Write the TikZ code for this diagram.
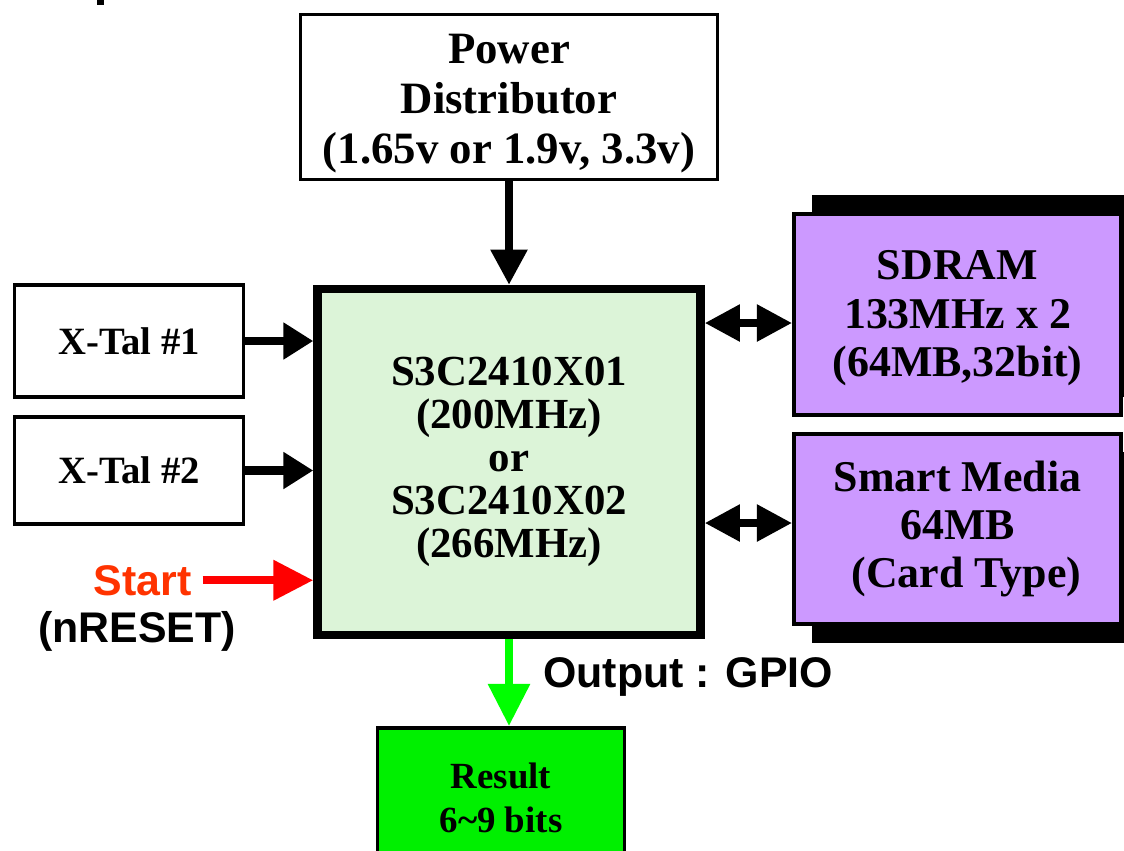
\documentclass[tikz,border=0pt]{standalone}
\usepackage{fontspec}
\setmainfont{Liberation Serif}
\setsansfont{Liberation Sans}
\usepackage{tikz}
\usetikzlibrary{arrows.meta}

\definecolor{chipgreen}{RGB}{220,244,216}
\definecolor{memviolet}{RGB}{204,153,255}
\definecolor{gpiogreen}{RGB}{0,255,0}
\definecolor{resultgreen}{RGB}{0,240,0}
\definecolor{startred}{RGB}{255,51,0}

\begin{document}
\begin{tikzpicture}[x=0.02cm, y=-0.02cm, >={Triangle[length=20pt,width=20pt]},
        block/.style={draw, line width=2.2pt, align=center, inner sep=0pt, font=\bfseries},
        memblock/.style={block, fill=memviolet, font=\bfseries\fontsize{25}{27.5}\selectfont},
        link/.style={line width=4.6pt, ->},
        tag/.style={inner sep=0pt, font=\sffamily\bfseries\fontsize{24.4}{28}\selectfont}]
        \def\pu{0.02cm}

        \useasboundingbox (0,0) rectangle (1124,850);
        \clip (0,0) rectangle (1124,850);

        \fill (97,0) rectangle (104,5);
        \fill (812,195) rectangle (1140,397);
        \fill (812,452) rectangle (1140,643);

        \node[block, minimum width=417*\pu, minimum height=165*\pu, font=\bfseries\fontsize{25.5}{28.3}\selectfont] (power) at (509,97) {\rule{0pt}{24pt}Power\\Distributor\\(1.65v or 1.9v, 3.3v)};
        \node[block, fill=chipgreen, line width=4.8pt, minimum width=383*\pu, minimum height=346*\pu, font=\bfseries\fontsize{24.4}{24.4}\selectfont] (soc) at (509,462) {S3C2410X01\\(200MHz)\\or\\S3C2410X02\\(266MHz)};
        \node[block, minimum width=229*\pu, minimum height=112*\pu, font=\bfseries\fontsize{22}{26}\selectfont] (xtal1) at (129,341) {X-Tal \#1};
        \node[block, minimum width=229*\pu, minimum height=107*\pu, font=\bfseries\fontsize{22}{26}\selectfont] (xtal2) at (129,470.5) {X-Tal \#2};
        \node[memblock, minimum width=327*\pu, minimum height=201*\pu] (sdram) at (957.5,314.5) {\rule{0pt}{21pt}SDRAM\\133MHz x 2\\(64MB,32bit)};
        \node[memblock, minimum width=327*\pu, minimum height=190*\pu] (smedia) at (957.5,529) {Smart Media\\64MB\\\hspace*{0.4em}(Card Type)};
        \node[block, fill=resultgreen, anchor=north, minimum width=247*\pu, minimum height=140*\pu, font=\bfseries\fontsize{21}{25}\selectfont] (result) at (501,726) {Result\\6\textasciitilde 9 bits};

        \node[tag, text=startred, anchor=base east] (start) at (192,595) {Start};
        \node[tag, anchor=base] (nreset) at (137,642) {(nRESET)};
        \node[tag, anchor=base west] (gpio) at (543,687) {Output : GPIO};

        \coordinate (sdbus) at (750,323);
        \coordinate (smbus) at (750,523);

        \draw[link] (power.south) -- (soc.north);
        \draw[link, -{Triangle[length=17pt,width=20pt]}] (xtal1.east) -- (soc.west |- xtal1.east);
        \draw[link, -{Triangle[length=17pt,width=20pt]}] (xtal2.east) -- (soc.west |- xtal2.east);
        \draw[link, <->] (soc.east |- sdbus) -- (sdram.west |- sdbus);
        \draw[link, <->] (soc.east |- smbus) -- (smedia.west |- smbus);
        \draw[link, red, shorten <=6pt, -{Triangle[length=22.7pt,width=22pt]}] (start.east) -- (soc.west |- start.east);
        \draw[link, gpiogreen, -{Triangle[length=24pt,width=23pt]}] (soc.south) -- (soc.south |- result.north);
    \end{tikzpicture}
\end{document}
